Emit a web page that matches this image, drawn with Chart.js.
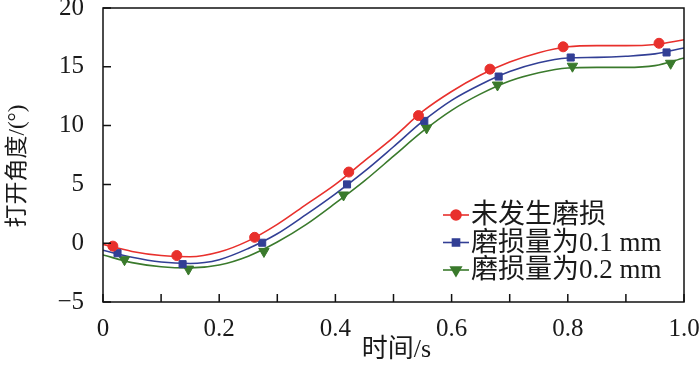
<!DOCTYPE html>
<html>
<head>
<meta charset="utf-8">
<script src="https://cdn.jsdelivr.net/npm/chart.js@4/dist/chart.umd.min.js"></script>
<style>
  html, body { margin: 0; padding: 0; background: #fff; }
  #wrap { width: 700px; height: 367px; position: relative; }
</style>
</head>
<body>
<div id="wrap"><canvas id="c"></canvas></div>
<script>
// 曲线数据（读自原图，步长 0.05 s）
const timeGrid = [0, 0.05, 0.1, 0.15, 0.2, 0.25, 0.3, 0.35, 0.4, 0.45, 0.5, 0.55, 0.6, 0.65, 0.7, 0.75, 0.8, 0.85, 0.9, 0.95, 1.0];
const curveNoWear = [-0.1, -0.7, -1.05, -1.15, -0.75, 0.2, 1.6, 3.3, 5.0, 7.0, 9.0, 11.2, 12.9, 14.3, 15.4, 16.2, 16.7, 16.8, 16.8, 16.9, 17.3];
const curveWear01 = [-0.6, -1.2, -1.6, -1.72, -1.4, -0.45, 0.8, 2.45, 4.2, 6.1, 8.2, 10.35, 12.15, 13.5, 14.6, 15.35, 15.75, 15.8, 15.9, 16.1, 16.6];
const curveWear02 = [-1.0, -1.65, -2.0, -2.1, -1.85, -1.1, 0.1, 1.6, 3.4, 5.3, 7.4, 9.5, 11.3, 12.7, 13.8, 14.5, 14.9, 14.95, 14.95, 15.1, 15.75];

// 标记点
const markNoWearX = [0.017, 0.127, 0.261, 0.423, 0.543, 0.666, 0.792, 0.957];
const markNoWearY = [-0.25, -1.05, 0.5, 6.05, 10.85, 14.8, 16.7, 17.0];
const markWear01X = [0.025, 0.137, 0.274, 0.420, 0.553, 0.681, 0.805, 0.970];
const markWear01Y = [-0.85, -1.78, 0.04, 5.0, 10.4, 14.17, 15.79, 16.22];
const markWear02X = [0.037, 0.147, 0.277, 0.414, 0.557, 0.679, 0.808, 0.977];
const markWear02Y = [-1.4, -2.2, -0.7, 4.1, 9.8, 13.45, 15.05, 15.3];

const seriesNames = ['未发生磨损', '磨损量为0.1 mm', '磨损量为0.2 mm'];
const colors = ['#e8302c', '#323f95', '#3a7a2c'];
const markerStyles = ['circle', 'rect', 'triangle'];

const xTicks = [0, 0.1, 0.2, 0.3, 0.4, 0.5, 0.6, 0.7, 0.8, 0.9, 1.0];
const xLabels = [0, 0.2, 0.4, 0.6, 0.8, 1.0];
const yTicks = [-5, 0, 5, 10, 15, 20];
const xTitle = '时间/s';
const yTitle = '打开角度/(°)';

const serif = '"Liberation Serif", "Times New Roman", "Noto Sans CJK SC", serif';
const toXY = (xs, ys) => xs.map((x, i) => ({ x, y: ys[i] }));

const lineSet = (ys, color) => ({
  type: 'line', data: toXY(timeGrid, ys), borderColor: color, borderWidth: 1.6,
  pointRadius: 0, cubicInterpolationMode: 'monotone', fill: false, order: 2
});
const markSet = (xs, ys, color, style) => ({
  type: 'scatter', data: toXY(xs, ys), backgroundColor: color, borderColor: color,
  pointStyle: style, pointRadius: style === 'triangle' ? 6 : 5, rotation: style === 'triangle' ? 180 : 0,
  showLine: false, order: 1
});

// 边框、内向刻度、坐标轴标题
const framePlugin = {
  id: 'frame',
  afterDraw(chart) {
    const { ctx, chartArea: a, scales: { x, y } } = chart;
    ctx.save();
    ctx.strokeStyle = '#111';
    ctx.lineWidth = 1.5;
    ctx.strokeRect(a.left, a.top, a.right - a.left, a.bottom - a.top);
    ctx.beginPath();
    xTicks.forEach((v) => { const px = x.getPixelForValue(v); ctx.moveTo(px, a.bottom); ctx.lineTo(px, a.bottom - 8); });
    yTicks.forEach((v) => { const py = y.getPixelForValue(v); ctx.moveTo(a.left, py); ctx.lineTo(a.left + 8, py); });
    ctx.stroke();

    ctx.fillStyle = '#1a1a1a';
    ctx.font = '26px ' + serif;
    ctx.textAlign = 'center';
    ctx.textBaseline = 'middle';
    ctx.fillText(xTitle, (a.left + a.right) / 2 + 3, 350);
    ctx.font = '23px ' + serif;
    ctx.translate(18, 166);
    ctx.rotate(-Math.PI / 2);
    ctx.fillText(yTitle, 0, 0);
    ctx.restore();
  }
};

// 图例：线段 + 标记
const legendPlugin = {
  id: 'lineLegend',
  afterDraw(chart) {
    const { ctx } = chart;
    ctx.save();
    ctx.font = '27px ' + serif;
    ctx.textBaseline = 'middle';
    seriesNames.forEach((name, i) => {
      const cy = 215 + i * 27.5;
      ctx.strokeStyle = colors[i];
      ctx.fillStyle = colors[i];
      ctx.lineWidth = 1.6;
      ctx.beginPath(); ctx.moveTo(443, cy); ctx.lineTo(469, cy); ctx.stroke();
      Chart.helpers.drawPoint(ctx, { pointStyle: markerStyles[i], radius: i === 2 ? 6 : 5, rotation: i === 2 ? 180 : 0, borderWidth: 1 }, 456, cy);
      ctx.fillStyle = '#1a1a1a';
      ctx.fillText(name, 471, cy + 1);
    });
    ctx.restore();
  }
};

new Chart(document.getElementById('c'), {
  data: {
    datasets: [
      lineSet(curveNoWear, colors[0]),
      lineSet(curveWear01, colors[1]),
      lineSet(curveWear02, colors[2]),
      markSet(markNoWearX, markNoWearY, colors[0], markerStyles[0]),
      markSet(markWear01X, markWear01Y, colors[1], markerStyles[1]),
      markSet(markWear02X, markWear02Y, colors[2], markerStyles[2])
    ]
  },
  options: {
    responsive: true, maintainAspectRatio: false, animation: false,
    layout: { padding: { left: 0, right: 16, top: 8, bottom: 0 } },
    plugins: { legend: { display: false }, tooltip: { enabled: false } },
    scales: {
      x: {
        type: 'linear', min: 0, max: 1,
        afterBuildTicks: (s) => { s.ticks = xLabels.map((v) => ({ value: v })); },
        ticks: { color: '#1a1a1a', font: { family: serif, size: 25 }, padding: 4, maxRotation: 0,
          callback: (v) => (v === 0 ? '0' : v === 1 ? '1.0' : String(Math.round(v * 10) / 10)) },
        grid: { display: false }, border: { display: false },
        afterFit: (s) => { s.height = 65; s.paddingLeft = 0; s.paddingRight = 0; }
      },
      y: {
        type: 'linear', min: -5, max: 20,
        afterBuildTicks: (s) => { s.ticks = yTicks.map((v) => ({ value: v })); },
        ticks: { color: '#1a1a1a', font: { family: serif, size: 25 }, padding: 11,
          callback: (v) => String(v).replace('-', '−') },
        grid: { display: false }, border: { display: false },
        afterFit: (s) => { s.width = 103; s.paddingTop = 0; s.paddingBottom = 0; }
      }
    }
  },
  plugins: [framePlugin, legendPlugin]
});
</script>
</body>
</html>
